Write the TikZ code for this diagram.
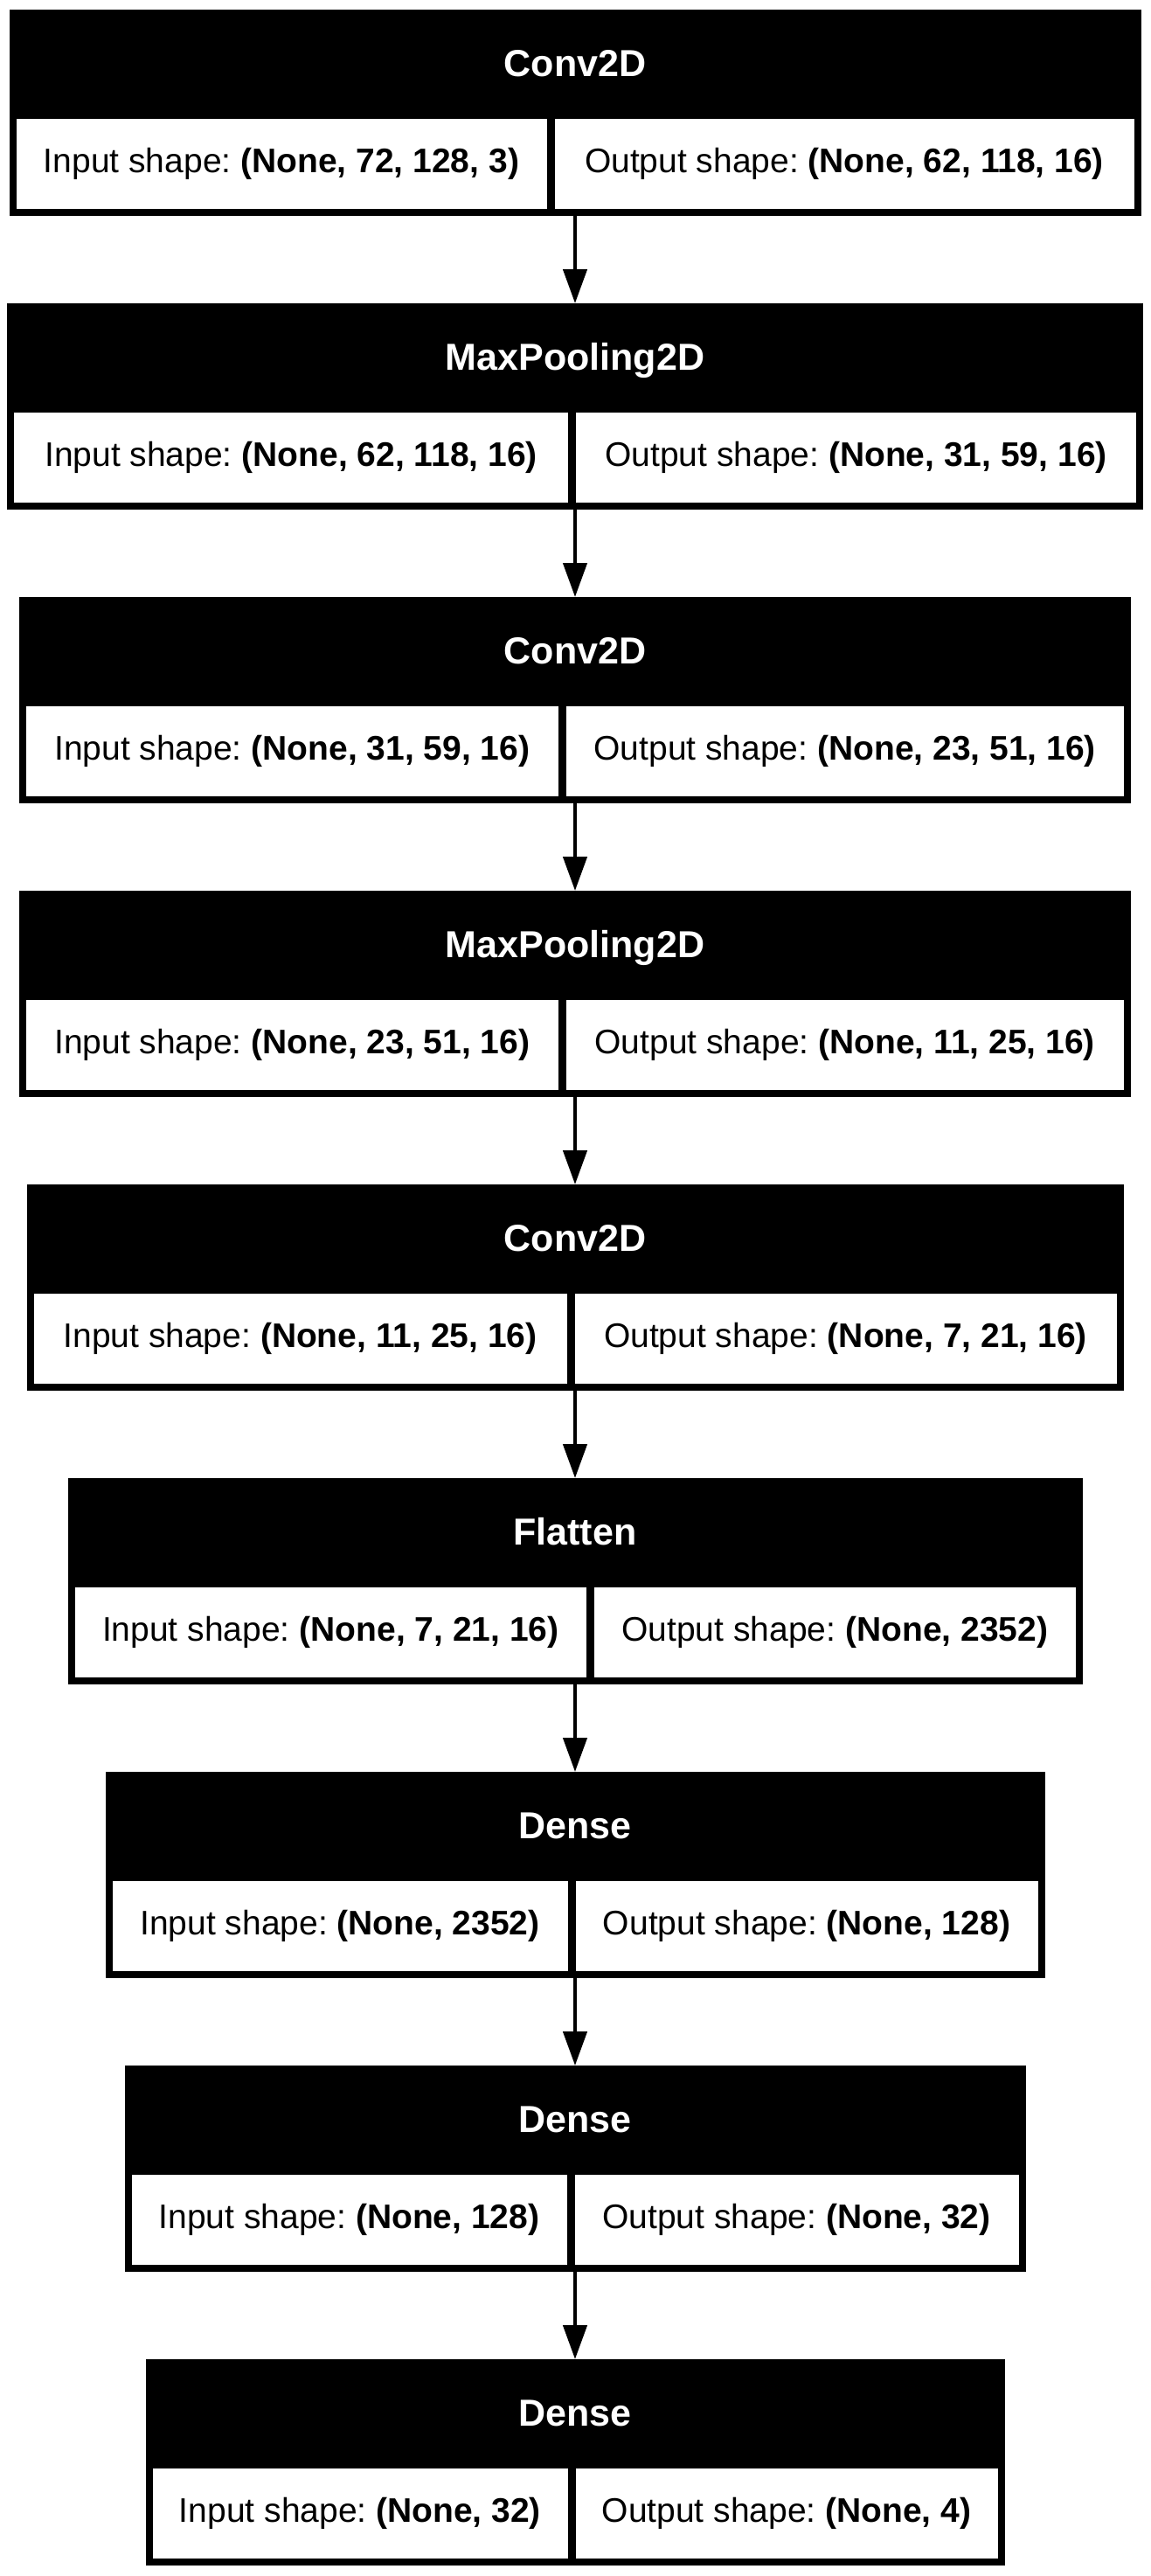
\documentclass[tikz,border=0pt]{standalone}
\usepackage{fontspec}
\setmainfont{Liberation Sans}
\frenchspacing
\usetikzlibrary{positioning, arrows.meta}

\begin{document}
\begin{tikzpicture}[node distance=50pt,
    layer/.style={fill=black, text=white, font=\fontsize{21.5}{25}\selectfont\bfseries,
      inner xsep=0pt, inner ysep=0pt, outer sep=0pt, text height=38pt, text depth=80pt},
    cell/.style={fill=white, inner sep=0pt, outer sep=0pt, minimum height=51.5pt,
      font=\fontsize{19.5}{23}\selectfont},
    flow/.style={line width=2.25pt, -{Triangle[length=19.5pt,width=13.5pt]}}]

  \useasboundingbox (0,0) rectangle (658.5pt,-1473.5pt);

  % layers
  \node[layer, minimum width=647.5pt] (conv1) at (329pt,-64.5pt) {Conv2D};
  \node[cell, minimum width=303.5pt, below right=62.5pt and 4pt of conv1.north west] (conv1in) {Input shape: \textbf{(None, 72, 128, 3)}};
  \node[cell, minimum width=331.5pt, below left=62.5pt and 4pt of conv1.north east] (conv1out) {Output shape: \textbf{(None, 62, 118, 16)}};

  \node[layer, minimum width=650pt, below=of conv1] (pool1) {MaxPooling2D};
  \node[cell, minimum width=317pt, below right=62.5pt and 4pt of pool1.north west] (pool1in) {Input shape: \textbf{(None, 62, 118, 16)}};
  \node[cell, minimum width=320.5pt, below left=62.5pt and 4pt of pool1.north east] (pool1out) {Output shape: \textbf{(None, 31, 59, 16)}};

  \node[layer, minimum width=636pt, below=of pool1] (conv2) {Conv2D};
  \node[cell, minimum width=304.25pt, below right=62.5pt and 4pt of conv2.north west] (conv2in) {Input shape: \textbf{(None, 31, 59, 16)}};
  \node[cell, minimum width=319.25pt, below left=62.5pt and 4pt of conv2.north east] (conv2out) {Output shape: \textbf{(None, 23, 51, 16)}};

  \node[layer, minimum width=636pt, below=of conv2] (pool2) {MaxPooling2D};
  \node[cell, minimum width=304.25pt, below right=62.5pt and 4pt of pool2.north west] (pool2in) {Input shape: \textbf{(None, 23, 51, 16)}};
  \node[cell, minimum width=319.25pt, below left=62.5pt and 4pt of pool2.north east] (pool2out) {Output shape: \textbf{(None, 11, 25, 16)}};

  \node[layer, minimum width=627.5pt, below=of pool2] (conv3) {Conv2D};
  \node[cell, minimum width=305pt, below right=62.5pt and 4pt of conv3.north west] (conv3in) {Input shape: \textbf{(None, 11, 25, 16)}};
  \node[cell, minimum width=310pt, below left=62.5pt and 4pt of conv3.north east] (conv3out) {Output shape: \textbf{(None, 7, 21, 16)}};

  \node[layer, minimum width=580.5pt, below=of conv3] (flat) {Flatten};
  \node[cell, minimum width=292.75pt, below right=62.5pt and 4pt of flat.north west] (flatin) {Input shape: \textbf{(None, 7, 21, 16)}};
  \node[cell, minimum width=275.25pt, below left=62.5pt and 4pt of flat.north east] (flatout) {Output shape: \textbf{(None, 2352)}};

  \node[layer, minimum width=537.5pt, below=of flat] (dense1) {Dense};
  \node[cell, minimum width=260.5pt, below right=62.5pt and 4pt of dense1.north west] (dense1in) {Input shape: \textbf{(None, 2352)}};
  \node[cell, minimum width=264.5pt, below left=62.5pt and 4pt of dense1.north east] (dense1out) {Output shape: \textbf{(None, 128)}};

  \node[layer, minimum width=515.5pt, below=of dense1] (dense2) {Dense};
  \node[cell, minimum width=249pt, below right=62.5pt and 4pt of dense2.north west] (dense2in) {Input shape: \textbf{(None, 128)}};
  \node[cell, minimum width=254pt, below left=62.5pt and 4pt of dense2.north east] (dense2out) {Output shape: \textbf{(None, 32)}};

  \node[layer, minimum width=491.5pt, below=of dense2] (dense3) {Dense};
  \node[cell, minimum width=237.5pt, below right=62.5pt and 4pt of dense3.north west] (dense3in) {Input shape: \textbf{(None, 32)}};
  \node[cell, minimum width=241.5pt, below left=62.5pt and 4pt of dense3.north east] (dense3out) {Output shape: \textbf{(None, 4)}};

  % arrows
  \draw[flow] (conv1) -- (pool1);
  \draw[flow] (pool1) -- (conv2);
  \draw[flow] (conv2) -- (pool2);
  \draw[flow] (pool2) -- (conv3);
  \draw[flow] (conv3) -- (flat);
  \draw[flow] (flat) -- (dense1);
  \draw[flow] (dense1) -- (dense2);
  \draw[flow] (dense2) -- (dense3);
\end{tikzpicture}
\end{document}
